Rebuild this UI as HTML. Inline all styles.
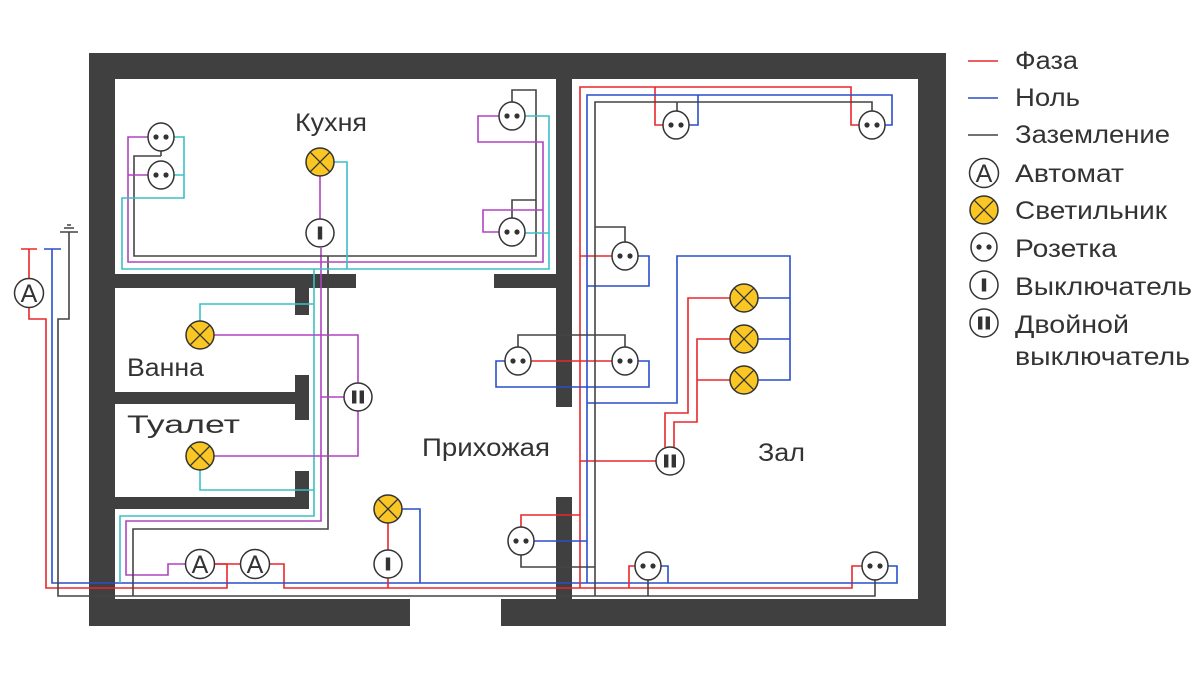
<!DOCTYPE html>
<html><head><meta charset="utf-8"><style>
html,body{margin:0;padding:0;background:#fff;}
svg{display:block;}
text{font-family:"Liberation Sans",sans-serif;fill:#333;}
</style></head><body>
<svg width="1200" height="675" viewBox="0 0 1200 675" xmlns="http://www.w3.org/2000/svg">
<defs>
<g id="sock"><ellipse cx="0" cy="0" rx="13" ry="14" fill="#fff" stroke="#333" stroke-width="1.5"/><circle cx="-5" cy="0" r="2.6" fill="#333"/><circle cx="5" cy="0" r="2.6" fill="#333"/></g>
<g id="lamp"><circle cx="0" cy="0" r="14" fill="#F9C623" stroke="#333" stroke-width="1.5"/><path d="M-9.9 -9.9L9.9 9.9M9.9 -9.9L-9.9 9.9" stroke="#333" stroke-width="1.3"/></g>
<g id="sw"><circle cx="0" cy="0" r="14" fill="#fff" stroke="#333" stroke-width="1.5"/><rect x="-2.2" y="-6.5" width="4.4" height="13" fill="#333"/></g>
<g id="dsw"><circle cx="0" cy="0" r="14" fill="#fff" stroke="#333" stroke-width="1.5"/><rect x="-6" y="-6.5" width="4.4" height="13" fill="#333"/><rect x="1.6" y="-6.5" width="4.4" height="13" fill="#333"/></g>
</defs>
<g fill="#404040">
<rect x="89" y="53" width="857" height="26"/>
<rect x="89" y="53" width="26" height="573"/>
<rect x="918" y="53" width="28" height="573"/>
<rect x="89" y="599" width="321" height="27"/>
<rect x="501" y="599" width="445" height="27"/>
<rect x="556" y="53" width="16" height="354"/>
<rect x="556" y="497" width="16" height="129"/>
<rect x="115" y="274" width="241" height="14"/>
<rect x="494" y="274" width="62" height="14"/>
<rect x="295" y="274" width="14" height="41"/>
<rect x="115" y="392" width="194" height="12"/>
<rect x="295" y="375" width="14" height="45"/>
<rect x="115" y="497" width="194" height="12"/>
<rect x="295" y="471" width="14" height="38"/>
</g>
<g fill="none" stroke-width="1.6">
<path d="M21 249H37M29 249V279M29 307V319H46V588H227V564H186" stroke="#e8282b"/>
<path d="M214 564H241M269 564H284V588H852V566H862" stroke="#e8282b"/>
<path d="M44 249H61M52 249V583H897V566H888" stroke="#2a4fc8"/>
<path d="M60 232H78M64 228H74M67 225H71M69 232V319H58V596H875V580" stroke="#444"/>
<path d="M186 564H168V575H126V521H321V248" stroke="#b044c0"/>
<path d="M120 583V516H314V269" stroke="#3cbfc8"/>
<path d="M133 596V529H328V256" stroke="#444"/>
<path d="M161 156V150M161 156H134V256H536V90H512V102M536 200H512V219" stroke="#444"/>
<path d="M148 137H128V262H543V142H478V116H499M128 175H148M543 210H483V232H499M320 176V219" stroke="#b044c0"/>
<path d="M174 137H184V198H122V269H549V116H525M184 175H174M549 233H525M334 162H347V269" stroke="#3cbfc8"/>
<path d="M200 321V304H314M200 470V490H314" stroke="#3cbfc8"/>
<path d="M214 335H358V456H214M344 397H321" stroke="#b044c0"/>
<path d="M402 509H420V583" stroke="#2a4fc8"/>
<path d="M388 523V550M388 578V588" stroke="#e8282b"/>
<path d="M580 588V87H851V125H859M655 87V125H663M580 256H612M580 461H656M665 447V413H688V298H730M674 447V422H697V339H730M697 380H730M580 515H521V527M521 361H612M629 588V566H635" stroke="#e8282b"/>
<path d="M587 583V95H892V125H885M698 95V125H689M638 256H649V286H587M587 403H677V256H790V380H758M758 298H790M758 339H790M505 361H496V387H649V361H638M534 541H587M668 583V566H661" stroke="#2a4fc8"/>
<path d="M595 596V102H872V111M677 102V111M595 227H625V242M518 347V335H625V347M521 555V567H595M648 596V580" stroke="#444"/>
<path d="M968 61H998" stroke="#e8282b"/>
<path d="M968 98H998" stroke="#2a4fc8"/>
<path d="M968 135H998" stroke="#444"/>
</g>
<circle cx="29" cy="293" r="14.5" fill="#fff" stroke="#333" stroke-width="1.5"/><text x="29" y="302" font-size="25" text-anchor="middle">A</text>
<circle cx="200" cy="564" r="14.5" fill="#fff" stroke="#333" stroke-width="1.5"/><text x="200" y="573" font-size="25" text-anchor="middle">A</text>
<circle cx="255" cy="564" r="14.5" fill="#fff" stroke="#333" stroke-width="1.5"/><text x="255" y="573" font-size="25" text-anchor="middle">A</text>
<use href="#sock" x="161" y="137"/><use href="#sock" x="161" y="175"/>
<use href="#sock" x="512" y="116"/><use href="#sock" x="512" y="232"/>
<use href="#lamp" x="320" y="162"/><use href="#sw" x="320" y="233"/>
<use href="#lamp" x="200" y="335"/><use href="#lamp" x="200" y="456"/>
<use href="#dsw" x="358" y="397"/>
<use href="#lamp" x="388" y="509"/><use href="#sw" x="388" y="564"/>
<use href="#sock" x="676" y="125"/><use href="#sock" x="872" y="125"/>
<use href="#sock" x="625" y="256"/>
<use href="#sock" x="518" y="361"/><use href="#sock" x="625" y="361"/>
<use href="#lamp" x="744" y="298"/><use href="#lamp" x="744" y="339"/><use href="#lamp" x="744" y="380"/>
<use href="#dsw" x="670" y="461"/>
<use href="#sock" x="521" y="541"/>
<use href="#sock" x="648" y="566"/><use href="#sock" x="875" y="566"/>
<g font-size="25">
<text x="295" y="131" textLength="72" lengthAdjust="spacingAndGlyphs">Кухня</text>
<text x="127" y="376" textLength="77" lengthAdjust="spacingAndGlyphs">Ванна</text>
<text x="127" y="433" textLength="113" lengthAdjust="spacingAndGlyphs">Туалет</text>
<text x="422" y="456" textLength="128" lengthAdjust="spacingAndGlyphs">Прихожая</text>
<text x="758" y="461" textLength="47" lengthAdjust="spacingAndGlyphs">Зал</text>
<text x="1015" y="69" textLength="63" lengthAdjust="spacingAndGlyphs">Фаза</text>
<text x="1015" y="106" textLength="65" lengthAdjust="spacingAndGlyphs">Ноль</text>
<text x="1015" y="143" textLength="155" lengthAdjust="spacingAndGlyphs">Заземление</text>
<text x="1015" y="182" textLength="109" lengthAdjust="spacingAndGlyphs">Автомат</text>
<text x="1015" y="219" textLength="152" lengthAdjust="spacingAndGlyphs">Светильник</text>
<text x="1015" y="257" textLength="102" lengthAdjust="spacingAndGlyphs">Розетка</text>
<text x="1015" y="295" textLength="177" lengthAdjust="spacingAndGlyphs">Выключатель</text>
<text x="1015" y="333" textLength="114" lengthAdjust="spacingAndGlyphs">Двойной</text>
<text x="1015" y="365" textLength="175" lengthAdjust="spacingAndGlyphs">выключатель</text>
</g>
<circle cx="984" cy="173" r="14.5" fill="#fff" stroke="#333" stroke-width="1.5"/><text x="984" y="182" font-size="25" text-anchor="middle">A</text>
<use href="#lamp" x="984" y="210"/>
<use href="#sock" x="984" y="247"/>
<use href="#sw" x="984" y="285"/>
<use href="#dsw" x="984" y="323"/>
</svg>
</body></html>
